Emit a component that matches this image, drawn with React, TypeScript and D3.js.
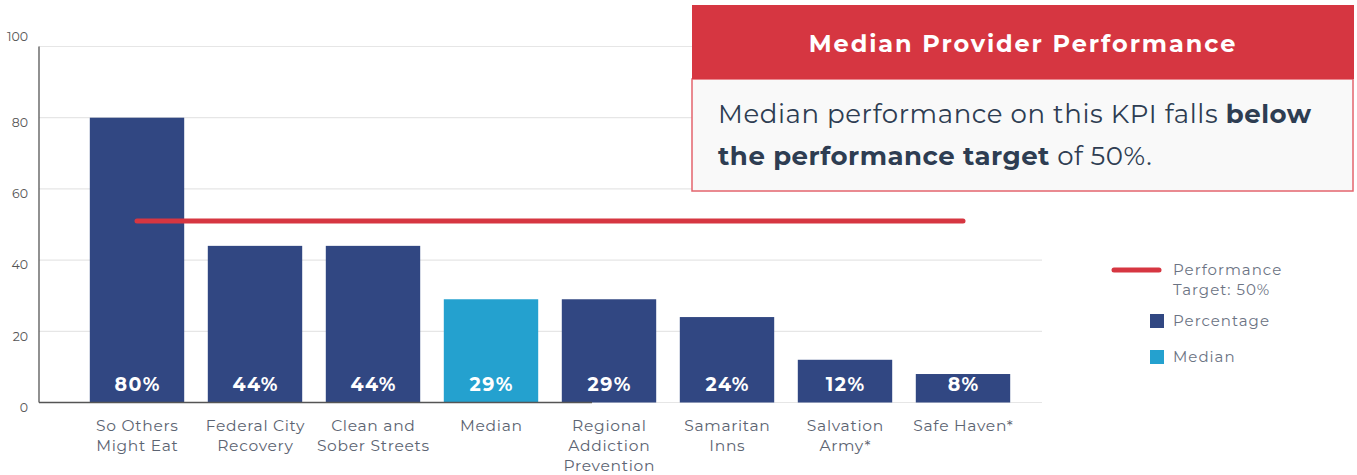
import React from "react";
import * as d3 from "d3";

const categories: string[][] = [
  ["So Others", "Might Eat"],
  ["Federal City", "Recovery"],
  ["Clean and", "Sober Streets"],
  ["Median"],
  ["Regional", "Addiction", "Prevention"],
  ["Samaritan", "Inns"],
  ["Salvation", "Army*"],
  ["Safe Haven*"],
];
const values: number[] = [80, 44, 44, 29, 29, 24, 12, 8];
const isMedian: boolean[] = [false, false, false, true, false, false, false, false];
const yTicks: number[] = [0, 20, 40, 60, 80, 100];
const targetLineValue = 51;
const legendItems = ["Performance|Target: 50%", "Percentage", "Median"];

const NAVY = "#314782";
const MEDIAN = "#24a1cf";
const RED = "#d63641";
const FONT = "Montserrat, 'Noto Sans', sans-serif";

export default function App() {
  const W = 1357;
  const H = 475;
  const y = d3.scaleLinear().domain([0, 100]).range([402.5, 46.5]);
  const x = d3
    .scaleBand<number>()
    .domain(values.map((_, i) => i))
    .range([78, 1022])
    .paddingInner(0.2)
    .paddingOuter(0.1);
  const cx = (i: number) => (x(i) as number) + x.bandwidth() / 2;

  return (
    <svg width={W} height={H} style={{ position: "absolute", left: 0, top: 0, background: "#fff" }} fontFamily={FONT}>
      {/* gridlines */}
      {yTicks.map((t) => (
        <line key={"g" + t} x1={39} x2={1042} y1={y(t)} y2={y(t)} stroke="#e6e6e6" strokeWidth={1.2} />
      ))}
      {yTicks.map((t) => (
        <text
          key={"t" + t}
          x={28}
          y={t === 100 ? y(t) - 9 : y(t) + 6}
          textAnchor="end"
          dominantBaseline="middle"
          fontSize={12.5}
          fill="#555"
        >
          {t}
        </text>
      ))}
      {/* bars */}
      {values.map((v, i) => (
        <rect
          key={"b" + i}
          x={x(i)}
          y={y(v)}
          width={x.bandwidth()}
          height={y(0) - y(v)}
          fill={isMedian[i] ? MEDIAN : NAVY}
        />
      ))}
      {/* axes */}
      <line x1={39} x2={39} y1={y(100)} y2={y(0)} stroke="#555" strokeWidth={1.3} />
      <line x1={39} x2={592} y1={y(0)} y2={y(0)} stroke="#555" strokeWidth={1.3} />
      {/* value labels */}
      {values.map((v, i) => (
        <text
          key={"v" + i}
          x={cx(i) + 0.7}
          y={386}
          textAnchor="middle"
          dominantBaseline="middle"
          fontSize={19}
          fontWeight={700}
          letterSpacing={1.4}
          fill="#fff"
        >
          {v + "%"}
        </text>
      ))}
      {/* category labels */}
      {categories.map((lines, i) => (
        <text key={"c" + i} textAnchor="middle" fontSize={15.5} letterSpacing={0.7} fill="#5c6472">
          {lines.map((l, j) => (
            <tspan key={j} x={cx(i) + 0.35} y={427 + j * 20} dominantBaseline="middle">
              {l}
            </tspan>
          ))}
        </text>
      ))}
      {/* target line */}
      <line
        x1={cx(0)}
        x2={cx(values.length - 1)}
        y1={y(targetLineValue)}
        y2={y(targetLineValue)}
        stroke={RED}
        strokeWidth={5}
        strokeLinecap="round"
      />
      {/* callout */}
      <rect x={692} y={79} width={661} height={112} fill="#f9f9f9" stroke="#e3646d" strokeWidth={1.5} />
      <rect x={692} y={5} width={662} height={74} fill={RED} />
      <text
        x={1023}
        y={46}
        textAnchor="middle"
        dominantBaseline="middle"
        fontSize={24}
        fontWeight={700}
        letterSpacing={1.9}
        fill="#fff"
      >
        Median Provider Performance
      </text>
      <text x={718} y={116} dominantBaseline="middle" fontSize={26} letterSpacing={0.6} fill="#2e3d52">
        Median performance on this KPI falls <tspan fontWeight={700}>below</tspan>
      </text>
      <text x={718} y={158} dominantBaseline="middle" fontSize={26} letterSpacing={0.5} fill="#2e3d52">
        <tspan fontWeight={700}>the performance target</tspan> of 50%.
      </text>
      {/* legend */}
      <line x1={1114} x2={1159} y1={270} y2={270} stroke={RED} strokeWidth={5} strokeLinecap="round" />
      <text fontSize={15} letterSpacing={1} fill="#6b7383">
        {legendItems[0].split("|").map((l, j) => (
          <tspan key={j} x={1173} y={271 + j * 20} dominantBaseline="middle">
            {l}
          </tspan>
        ))}
      </text>
      <rect x={1150} y={314} width={14} height={14} fill={NAVY} />
      <text x={1173} y={322} dominantBaseline="middle" fontSize={15} letterSpacing={1} fill="#6b7383">
        {legendItems[1]}
      </text>
      <rect x={1150} y={350} width={14} height={14} fill={MEDIAN} />
      <text x={1173} y={358} dominantBaseline="middle" fontSize={15} letterSpacing={1} fill="#6b7383">
        {legendItems[2]}
      </text>
    </svg>
  );
}
